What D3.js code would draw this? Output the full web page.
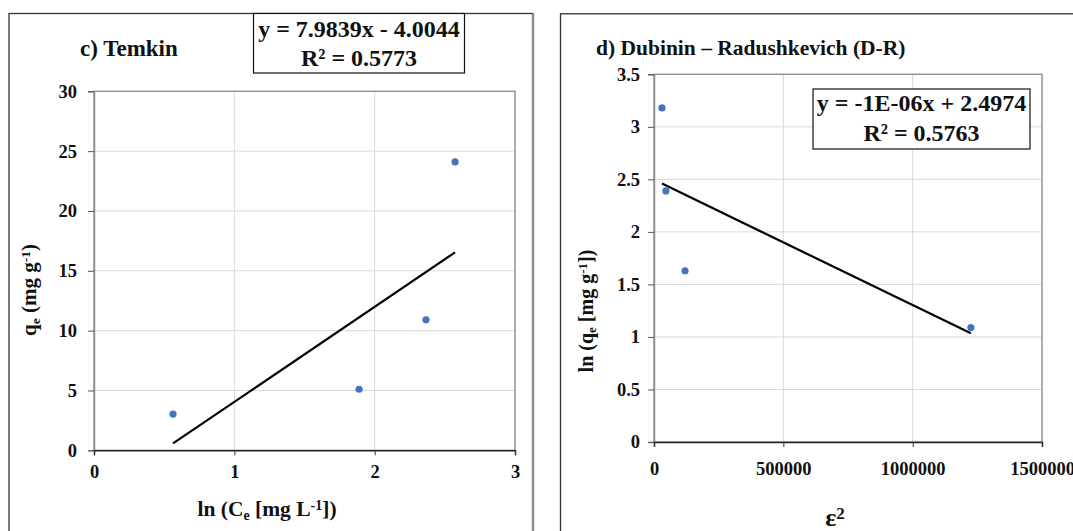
<!DOCTYPE html>
<html>
<head>
<meta charset="utf-8">
<script src="https://cdn.jsdelivr.net/npm/d3@7"></script>
<style>
  body { margin: 0; background: #fff; }
  svg text { font-family: "Liberation Serif", "Times New Roman", serif; font-weight: bold; fill: #111; }
</style>
</head>
<body>
<div id="chart"></div>
<script>
// Temkin data (left panel)
const temkinX = [0.563, 1.889, 2.366, 2.573];
const temkinY = [3.03, 5.1, 10.9, 24.1];
const temkinXTicks = [0, 1, 2, 3];
const temkinYTicks = [0, 5, 10, 15, 20, 25, 30];
const temkinEq = ["y = 7.9839x - 4.0044", "R\u00b2 = 0.5773"];

// Dubinin-Radushkevich data (right panel)
const drX = [31000, 46000, 120000, 1225000];
const drY = [3.18, 2.39, 1.63, 1.09];
const drXTicks = [0, 500000, 1000000, 1500000];
const drYTicks = [0, 0.5, 1, 1.5, 2, 2.5, 3, 3.5];
const drEq = ["y = -1E-06x + 2.4974", "R\u00b2 = 0.5763"];

const W = 1073, H = 531;
const pointColor = "#4472C4";

const svg = d3.select("#chart").append("svg")
    .attr("width", W)
    .attr("height", H);

// least squares fit, as Excel's linear trendline does
function linFit(xs, ys) {
    const mx = d3.mean(xs), my = d3.mean(ys);
    let sxy = 0, sxx = 0;
    xs.forEach((x, i) => { sxy += (x - mx) * (ys[i] - my); sxx += (x - mx) * (x - mx); });
    const slope = sxy / sxx;
    return { slope: slope, intercept: my - slope * mx };
}

function drawPanel(cfg) {
    const g = svg.append("g");

    // outer frame of the panel
    g.append("rect")
        .attr("x", cfg.frame[0]).attr("y", cfg.frame[1])
        .attr("width", cfg.frame[2]).attr("height", cfg.frame[3])
        .attr("fill", "none")
        .attr("stroke", "#333")
        .attr("stroke-width", 1.3);

    const x = d3.scaleLinear().domain(cfg.xDomain).range([cfg.plot.left, cfg.plot.right]);
    const y = d3.scaleLinear().domain(cfg.yDomain).range([cfg.plot.bottom, cfg.plot.top]);

    // gridlines
    g.append("g")
        .selectAll("line.hg")
        .data(cfg.yTicks.slice(1))
        .enter().append("line")
        .attr("x1", cfg.plot.left).attr("x2", cfg.plot.right)
        .attr("y1", d => y(d)).attr("y2", d => y(d))
        .attr("stroke", "#d9d9d9").attr("stroke-width", 1);
    g.append("g")
        .selectAll("line.vg")
        .data(cfg.xTicks.slice(1))
        .enter().append("line")
        .attr("x1", d => x(d)).attr("x2", d => x(d))
        .attr("y1", cfg.plot.top).attr("y2", cfg.plot.bottom)
        .attr("stroke", "#d9d9d9").attr("stroke-width", 1);

    // plot area border
    g.append("rect")
        .attr("x", cfg.plot.left).attr("y", cfg.plot.top)
        .attr("width", cfg.plot.right - cfg.plot.left)
        .attr("height", cfg.plot.bottom - cfg.plot.top)
        .attr("fill", "none")
        .attr("stroke", "#8c8c8c").attr("stroke-width", 1.3);

    // y axis
    const yAxis = g.append("g")
        .attr("transform", "translate(" + cfg.plot.left + ",0)")
        .call(d3.axisLeft(y).tickValues(cfg.yTicks).tickSizeOuter(0).tickSize(6).tickPadding(cfg.yPad)
            .tickFormat(cfg.yFormat));
    yAxis.select(".domain").attr("stroke", "#8c8c8c").attr("stroke-width", 1.5);
    yAxis.selectAll(".tick line").attr("stroke", "#555");
    yAxis.selectAll("text").style("font-size", "18.5px").attr("fill", "#111");

    // x axis
    const xAxis = g.append("g")
        .attr("transform", "translate(0," + cfg.plot.bottom + ")")
        .call(d3.axisBottom(x).tickValues(cfg.xTicks).tickSizeOuter(0).tickSize(5).tickPadding(cfg.xPad)
            .tickFormat(d3.format("d")));
    xAxis.select(".domain").attr("stroke", "#222").attr("stroke-width", 1.5);
    xAxis.selectAll(".tick line").attr("stroke", "#333");
    xAxis.selectAll("text").style("font-size", "18.5px").attr("fill", "#111");

    // trendline over the data range
    const fit = linFit(cfg.xs, cfg.ys);
    const xr = d3.extent(cfg.xs);
    g.append("line")
        .attr("x1", x(xr[0])).attr("y1", y(fit.slope * xr[0] + fit.intercept))
        .attr("x2", x(xr[1])).attr("y2", y(fit.slope * xr[1] + fit.intercept))
        .attr("stroke", "#000").attr("stroke-width", 2.2);

    // points
    g.selectAll("circle")
        .data(cfg.xs.map((d, i) => [d, cfg.ys[i]]))
        .enter().append("circle")
        .attr("cx", d => x(d[0]))
        .attr("cy", d => y(d[1]))
        .attr("r", 3.6)
        .attr("fill", pointColor);

    // title
    g.append("text")
        .attr("x", cfg.titlePos[0]).attr("y", cfg.titlePos[1])
        .style("font-size", cfg.titleSize)
        .text(cfg.title);

    // equation box
    const b = cfg.eqBox;
    g.append("rect")
        .attr("x", b[0]).attr("y", b[1]).attr("width", b[2]).attr("height", b[3])
        .attr("fill", "#fff").attr("stroke", "#111").attr("stroke-width", 1.2);
    cfg.eq.forEach((t, i) => {
        g.append("text")
            .attr("x", b[0] + b[2] / 2)
            .attr("y", cfg.eqBase[i])
            .attr("text-anchor", "middle")
            .style("font-size", "24px")
            .text(t);
    });

    return { g: g, x: x, y: y };
}

// ---- left panel: Temkin
const left = drawPanel({
    frame: [9, 13.5, 524, 540],
    plot: { left: 94, right: 515, top: 91.3, bottom: 450.3 },
    xDomain: [0, 3], yDomain: [0, 30],
    xTicks: temkinXTicks, yTicks: temkinYTicks,
    xs: temkinX, ys: temkinY,
    yFormat: d3.format("d"),
    yPad: 11, xPad: 10,
    title: "c) Temkin", titlePos: [80, 56], titleSize: "23px",
    eq: temkinEq, eqBox: [253.5, 13.5, 211, 59.5], eqBase: [37, 66]
});

// x title: ln (Ce [mg L-1])
const lxt = left.g.append("text")
    .attr("x", 267).attr("y", 516)
    .attr("text-anchor", "middle")
    .style("font-size", "21.5px");
lxt.append("tspan").text("ln (C");
lxt.append("tspan").attr("baseline-shift", "-25%").style("font-size", "14px").text("e");
lxt.append("tspan").text(" [mg L");
lxt.append("tspan").attr("baseline-shift", "45%").style("font-size", "14px").text("-1");
lxt.append("tspan").text("])");

// y title: qe (mg g-1)
const lyt = left.g.append("text")
    .attr("transform", "translate(36,290) rotate(-90)")
    .attr("text-anchor", "middle")
    .style("font-size", "21px");
lyt.append("tspan").text("q");
lyt.append("tspan").attr("baseline-shift", "-25%").style("font-size", "13.5px").text("e");
lyt.append("tspan").text(" (mg g");
lyt.append("tspan").attr("baseline-shift", "45%").style("font-size", "13.5px").text("-1");
lyt.append("tspan").text(")");

// ---- right panel: Dubinin-Radushkevich
const right = drawPanel({
    frame: [560.5, 13.8, 540, 540],
    plot: { left: 654, right: 1042, top: 74.3, bottom: 442 },
    xDomain: [0, 1500000], yDomain: [0, 3.5],
    xTicks: drXTicks, yTicks: drYTicks,
    xs: drX, ys: drY,
    yFormat: d => d3.format("")(d),
    yPad: 8, xPad: 15,
    title: "d) Dubinin \u2013 Radushkevich (D-R)", titlePos: [596, 55], titleSize: "21.5px",
    eq: drEq, eqBox: [813, 89, 217, 60], eqBase: [111, 141]
});

// x title: ε²
const rxt = right.g.append("text")
    .attr("x", 835).attr("y", 526)
    .attr("text-anchor", "middle")
    .style("font-size", "26px");
rxt.append("tspan").text("\u03b5");
rxt.append("tspan").attr("baseline-shift", "40%").style("font-size", "17px").text("2");

// y title: ln (qe [mg g-1])
const ryt = right.g.append("text")
    .attr("transform", "translate(593,311) rotate(-90)")
    .attr("text-anchor", "middle")
    .style("font-size", "20px");
ryt.append("tspan").text("ln (q");
ryt.append("tspan").attr("baseline-shift", "-25%").style("font-size", "13px").text("e");
ryt.append("tspan").text(" [mg g");
ryt.append("tspan").attr("baseline-shift", "45%").style("font-size", "13px").text("-1");
ryt.append("tspan").text("])");

// grey edge between the two panels
svg.append("line")
    .attr("x1", 533).attr("x2", 533).attr("y1", 13.5).attr("y2", H)
    .attr("stroke", "#8c8c8c").attr("stroke-width", 2.5);
</script>
</body>
</html>
